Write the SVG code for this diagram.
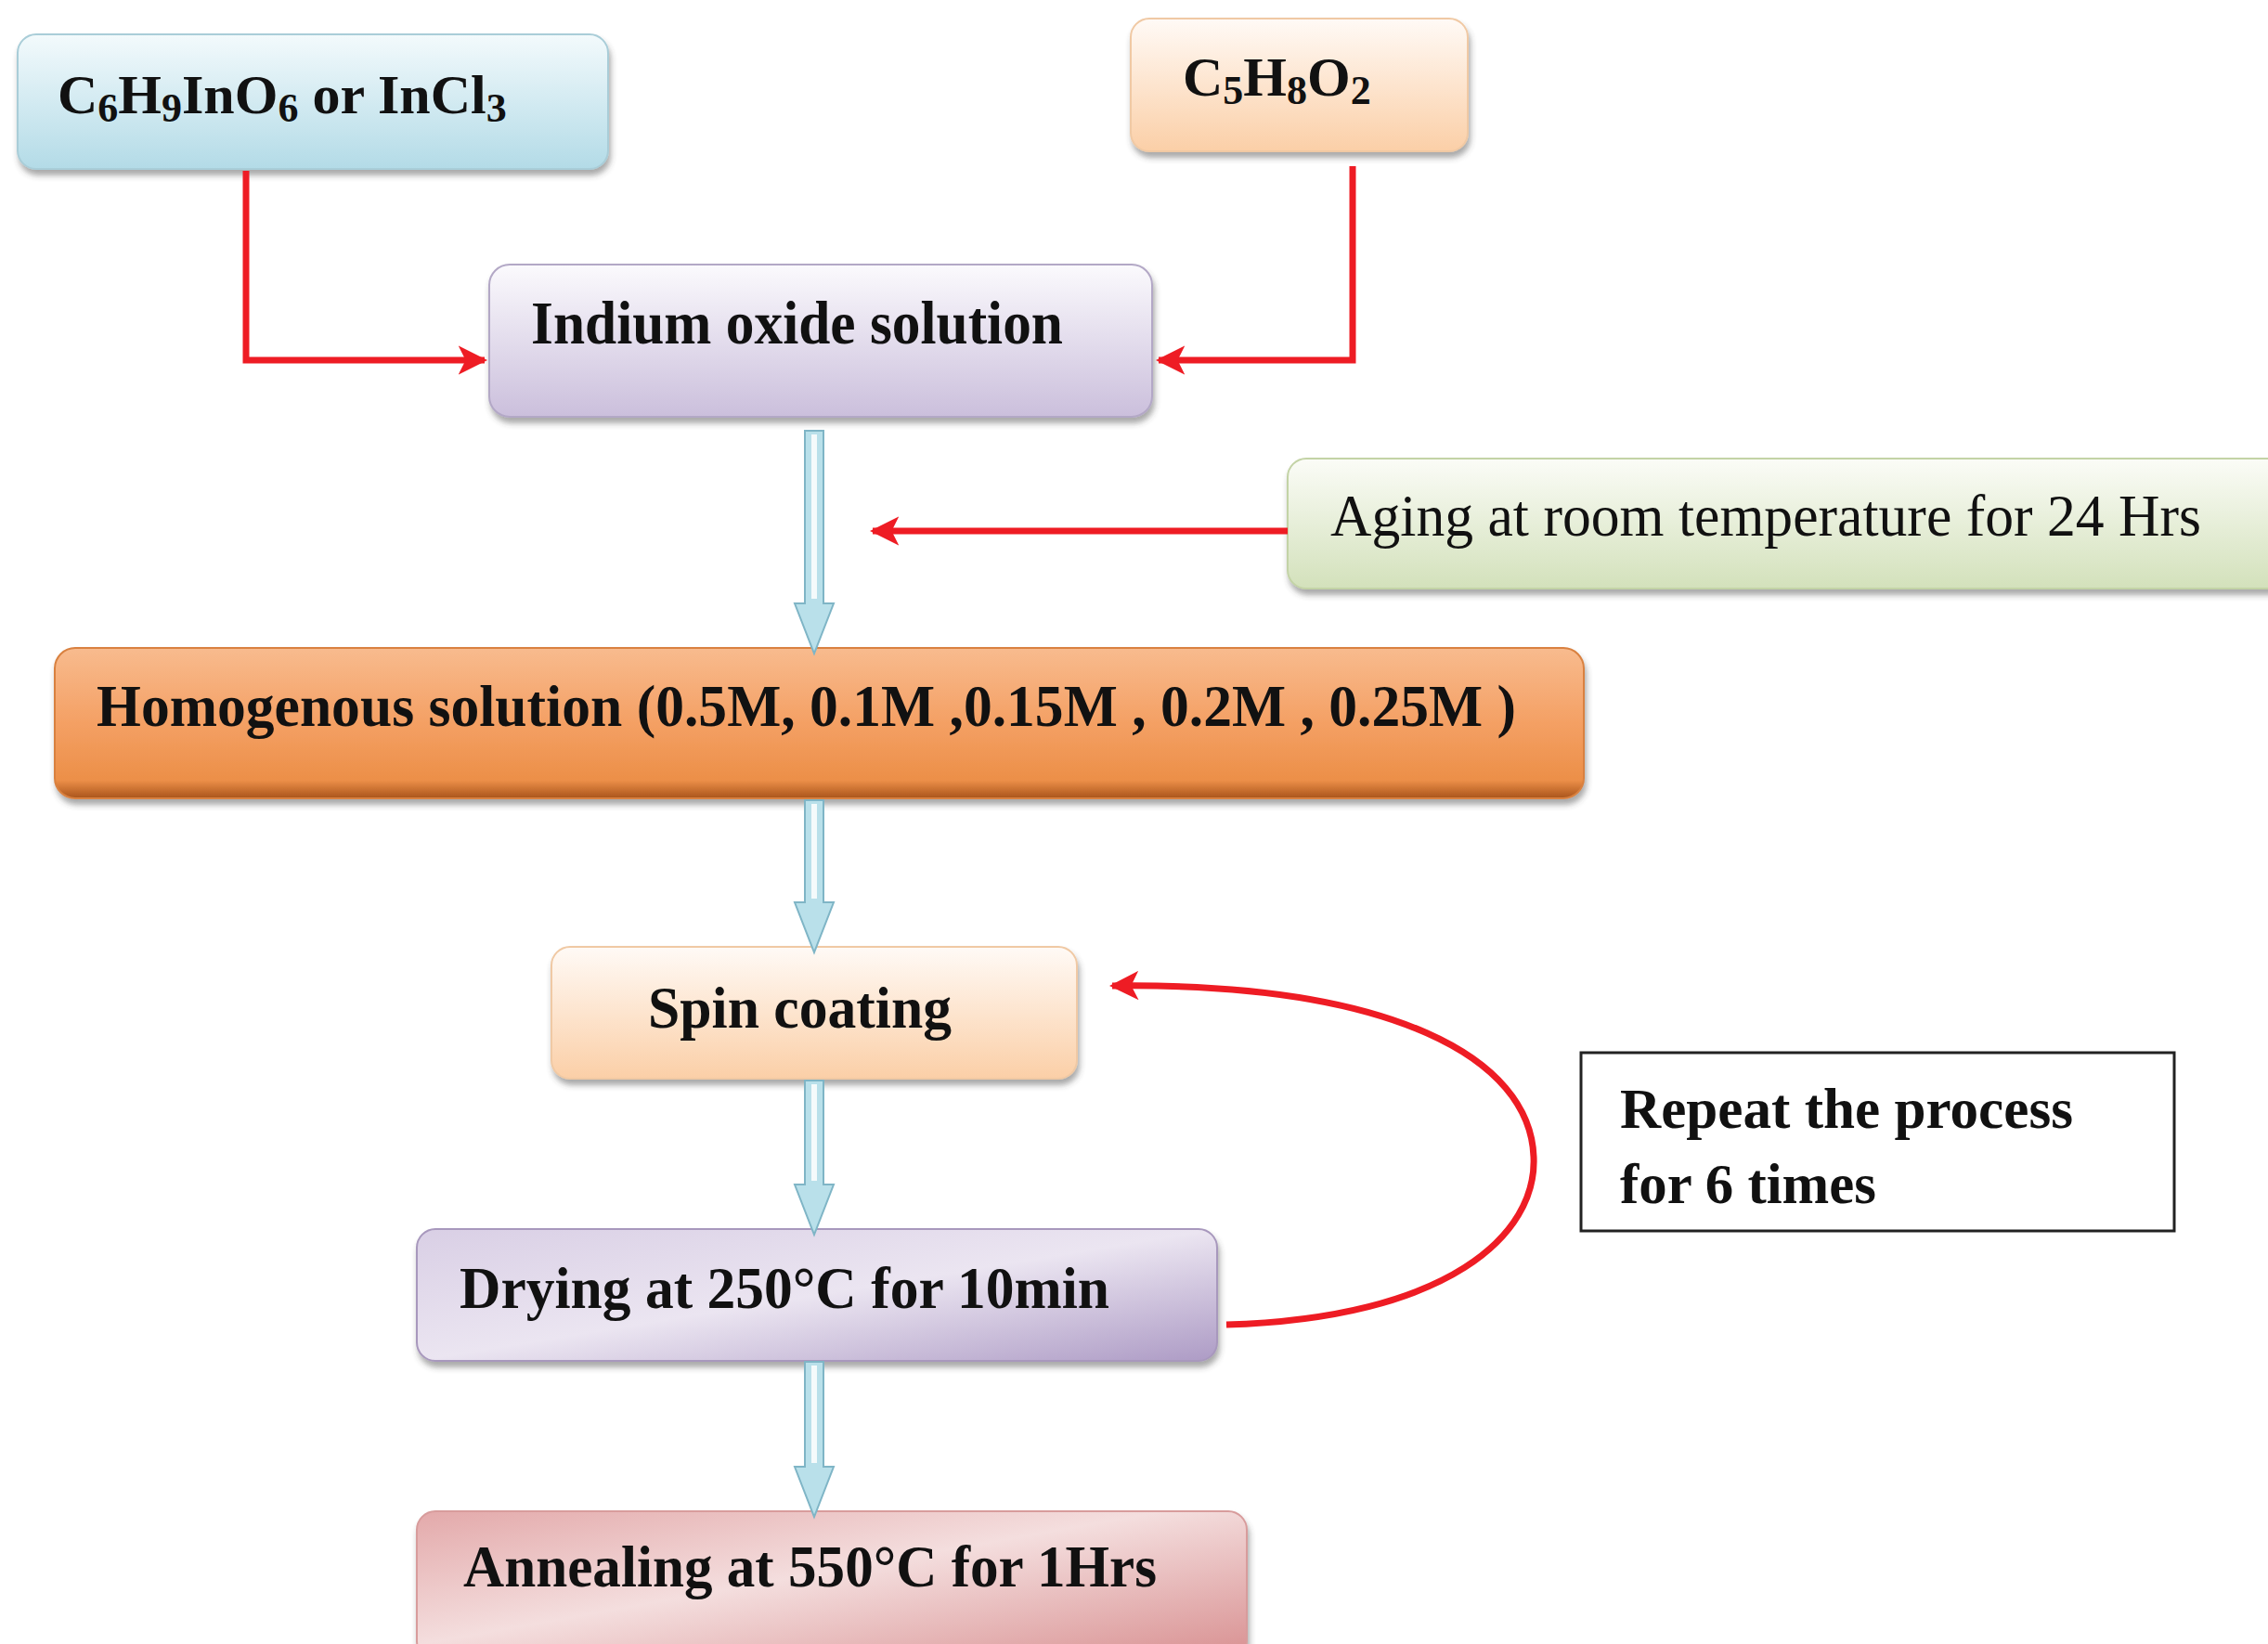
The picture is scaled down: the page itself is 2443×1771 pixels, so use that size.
<svg xmlns="http://www.w3.org/2000/svg" width="2443" height="1771" viewBox="0 0 2443 1771">
<defs>
<style>
.bt{font-family:"Liberation Serif","Times New Roman",serif;font-weight:bold;fill:#111;}
.rt{font-family:"Liberation Serif","Times New Roman",serif;fill:#111;}
.red{fill:none;stroke:#ee1c24;stroke-width:7;}
.blue{fill:#b9e0ea;stroke:#7fb5c6;stroke-width:2;}
.hl{stroke:#ffffff;stroke-width:6;opacity:0.85;}
</style>
<filter id="sh" x="-5%" y="-10%" width="110%" height="130%">
<feDropShadow dx="2" dy="6" stdDeviation="3" flood-color="#404040" flood-opacity="0.45"/>
</filter>
<linearGradient id="gBlue" x1="0" y1="0" x2="0" y2="1"><stop offset="0" stop-color="#f3fafc"/><stop offset="1" stop-color="#b3dbe7"/></linearGradient>
<linearGradient id="gPeach" x1="0" y1="0" x2="0" y2="1"><stop offset="0" stop-color="#fffaf6"/><stop offset="1" stop-color="#fbcfa7"/></linearGradient>
<linearGradient id="gLav" x1="0" y1="0" x2="0" y2="1"><stop offset="0" stop-color="#fbfafd"/><stop offset="1" stop-color="#cbbfdc"/></linearGradient>
<linearGradient id="gGreen" x1="0" y1="0" x2="0" y2="1"><stop offset="0" stop-color="#fbfcf7"/><stop offset="1" stop-color="#d3e1bb"/></linearGradient>
<linearGradient id="gOrange" x1="0" y1="0" x2="0" y2="1"><stop offset="0" stop-color="#f8bb8e"/><stop offset="0.5" stop-color="#f4a064"/><stop offset="0.88" stop-color="#ec8f48"/><stop offset="1" stop-color="#a9541b"/></linearGradient>
<linearGradient id="gDry" x1="0" y1="0" x2="1" y2="1"><stop offset="0" stop-color="#d9cfe5"/><stop offset="0.5" stop-color="#ebe5f1"/><stop offset="1" stop-color="#ad9bc5"/></linearGradient>
<linearGradient id="gPink" x1="0" y1="0" x2="1" y2="1"><stop offset="0" stop-color="#e3a9aa"/><stop offset="0.45" stop-color="#f4dede"/><stop offset="1" stop-color="#d88f90"/></linearGradient>
<marker id="ah" viewBox="0 0 10 10" refX="9" refY="5" markerWidth="4.5" markerHeight="4.5" orient="auto" markerUnits="strokeWidth">
<path d="M0,0 L10,5 L0,10 L2.5,5 Z" fill="#ee1c24"/>
</marker>
</defs>
<rect width="2443" height="1771" fill="#ffffff"/>

<g id="node-c6h9ino6">
<rect x="19" y="37" width="636" height="145" rx="20" fill="url(#gBlue)" stroke="#a9cdd8" stroke-width="2" filter="url(#sh)"/>
<text class="bt" x="62" y="122" font-size="60">C<tspan font-size="44" dy="9">6</tspan><tspan dy="-9">H</tspan><tspan font-size="44" dy="9">9</tspan><tspan dy="-9">InO</tspan><tspan font-size="44" dy="9">6</tspan><tspan dy="-9"> or InCl</tspan><tspan font-size="44" dy="9">3</tspan></text>
</g>

<g id="node-c5h8o2">
<rect x="1218" y="20" width="363" height="143" rx="20" fill="url(#gPeach)" stroke="#f0c9a4" stroke-width="2" filter="url(#sh)"/>
<text class="bt" x="1274" y="103" font-size="60">C<tspan font-size="44" dy="9">5</tspan><tspan dy="-9">H</tspan><tspan font-size="44" dy="9">8</tspan><tspan dy="-9">O</tspan><tspan font-size="44" dy="9">2</tspan></text>
</g>

<g id="node-indium">
<rect x="527" y="285" width="714" height="164" rx="22" fill="url(#gLav)" stroke="#b3a8c6" stroke-width="2" filter="url(#sh)"/>
<text class="bt" x="572" y="370" font-size="66" textLength="573" lengthAdjust="spacingAndGlyphs">Indium oxide solution</text>
</g>

<g id="node-aging">
<rect x="1387" y="494" width="1080" height="140" rx="20" fill="url(#gGreen)" stroke="#c3d3a6" stroke-width="2" filter="url(#sh)"/>
<text class="rt" x="1433" y="577" font-size="64" textLength="938" lengthAdjust="spacingAndGlyphs">Aging at room temperature for 24 Hrs</text>
</g>

<g id="node-homogenous">
<rect x="59" y="698" width="1647" height="162" rx="22" fill="url(#gOrange)" stroke="#d9813f" stroke-width="2" filter="url(#sh)"/>
<text class="bt" x="104" y="782" font-size="64" textLength="1529" lengthAdjust="spacingAndGlyphs">Homogenous solution (0.5M, 0.1M ,0.15M , 0.2M , 0.25M )</text>
</g>

<g id="node-spin">
<rect x="594" y="1020" width="566" height="142" rx="20" fill="url(#gPeach)" stroke="#f0c9a4" stroke-width="2" filter="url(#sh)"/>
<text class="bt" x="698" y="1107" font-size="64" textLength="327" lengthAdjust="spacingAndGlyphs">Spin coating</text>
</g>

<g id="node-drying">
<rect x="449" y="1324" width="862" height="142" rx="20" fill="url(#gDry)" stroke="#a898bd" stroke-width="2" filter="url(#sh)"/>
<text class="bt" x="495" y="1409" font-size="64" textLength="700" lengthAdjust="spacingAndGlyphs">Drying at 250°C for 10min</text>
</g>

<g id="node-annealing">
<rect x="449" y="1628" width="894" height="160" rx="20" fill="url(#gPink)" stroke="#d89c9c" stroke-width="2" filter="url(#sh)"/>
<text class="bt" x="499" y="1709" font-size="64" textLength="747" lengthAdjust="spacingAndGlyphs">Annealing at 550°C for 1Hrs</text>
</g>

<g id="node-repeat">
<rect x="1703" y="1134" width="639" height="192" fill="#ffffff" stroke="#222" stroke-width="3"/>
<text class="bt" x="1745" y="1215" font-size="62" textLength="488" lengthAdjust="spacingAndGlyphs">Repeat the process</text>
<text class="bt" x="1745" y="1296" font-size="62" textLength="276" lengthAdjust="spacingAndGlyphs">for 6 times</text>
</g>

<g id="connectors">
<path class="red" d="M265,184 V388 H522" marker-end="url(#ah)"/>
<path class="red" d="M1457,179 V388 H1248" marker-end="url(#ah)"/>
<path class="red" d="M1387,572 H940" marker-end="url(#ah)"/>
<path class="red" d="M1321,1427 C1560,1420 1656,1330 1652,1246 C1648,1140 1500,1058 1198,1062" marker-end="url(#ah)"/>
<g>
<polygon class="blue" points="867,464 887,464 887,650 898,650 877,704 856,650 867,650"/>
<line class="hl" x1="877" y1="468" x2="877" y2="645"/>
</g>
<g>
<polygon class="blue" points="867,862 887,862 887,972 898,972 877,1026 856,972 867,972"/>
<line class="hl" x1="877" y1="866" x2="877" y2="968"/>
</g>
<g>
<polygon class="blue" points="867,1164 887,1164 887,1276 898,1276 877,1330 856,1276 867,1276"/>
<line class="hl" x1="877" y1="1168" x2="877" y2="1272"/>
</g>
<g>
<polygon class="blue" points="867,1467 887,1467 887,1580 898,1580 877,1634 856,1580 867,1580"/>
<line class="hl" x1="877" y1="1471" x2="877" y2="1576"/>
</g>
</g>
</svg>
